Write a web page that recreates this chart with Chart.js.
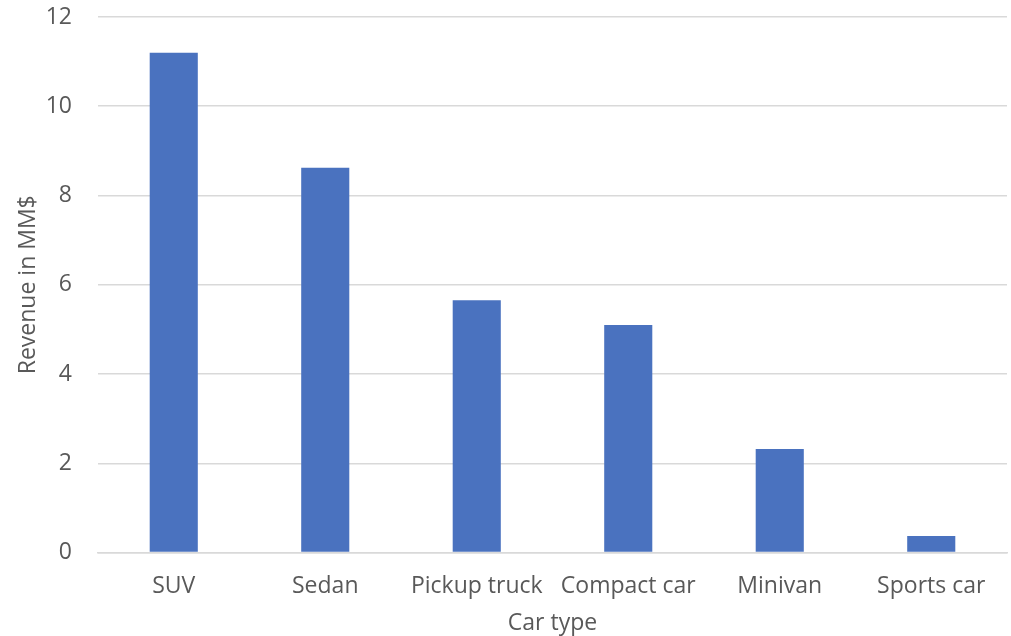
<!DOCTYPE html>
<html>
<head>
<meta charset="utf-8">
<script src="https://cdn.jsdelivr.net/npm/chart.js@4"></script>
<style>
  html, body { margin: 0; padding: 0; background: #fff; }
  #wrap { width: 1011px; height: 636px; }
</style>
</head>
<body>
<div id="wrap"><canvas id="chartBars"></canvas></div>
<script>
// revenue per car type (MM$)
const carTypes = ['SUV', 'Sedan', 'Pickup truck', 'Compact car', 'Minivan', 'Sports car']
const revenue = [11.2, 8.62, 5.65, 5.1, 2.32, 0.37]
const yTicks = [0, 2, 4, 6, 8, 10, 12]

const textColor = '#595959'
const gridColor = '#d9d9d9'
const barColor = '#4a72bf'
const fontSize = 23

Chart.defaults.font.family = "'Open Sans', 'Noto Sans', sans-serif"
Chart.defaults.color = textColor

new Chart(document.getElementById('chartBars'), {
    type: 'bar',
    data: {
        labels: carTypes,
        datasets: [{
            data: revenue,
            backgroundColor: barColor,
            borderWidth: 0,
            barPercentage: 0.635,
            categoryPercentage: 0.5
        }]
    },
    options: {
        responsive: true,
        maintainAspectRatio: false,
        animation: false,
        layout: { padding: { top: 17, right: 4, bottom: 0, left: 8 } },
        plugins: {
            legend: { display: false },
            tooltip: { enabled: false }
        },
        scales: {
            x: {
                grid: { display: false, drawTicks: false },
                border: { color: gridColor, width: 1.5 },
                ticks: { font: { size: fontSize }, padding: 20, color: textColor, maxRotation: 0 },
                title: { display: true, text: 'Car type', font: { size: fontSize }, color: textColor, padding: { top: 0, bottom: -1 } },
                // fixed height so the plot bottom sits at the zero line
                afterFit: axis => {
                    axis.height = 636 - 552.5
                    axis.paddingLeft = 0
                    axis.paddingRight = 0
                }
            },
            y: {
                min: 0,
                max: 12,
                afterBuildTicks: axis => { axis.ticks = yTicks.map(v => ({ value: v })) },
                grid: { color: gridColor, lineWidth: 1.5, drawTicks: false },
                border: { display: false },
                ticks: { font: { size: fontSize }, padding: 26, color: textColor },
                title: { display: true, text: 'Revenue in MM$', font: { size: fontSize }, color: textColor, padding: { top: 7, bottom: 0 } },
                afterFit: axis => {
                    axis.width = 90
                    axis.paddingTop = 0
                    axis.paddingBottom = 0
                }
            }
        }
    }
})
</script>
</body>
</html>
